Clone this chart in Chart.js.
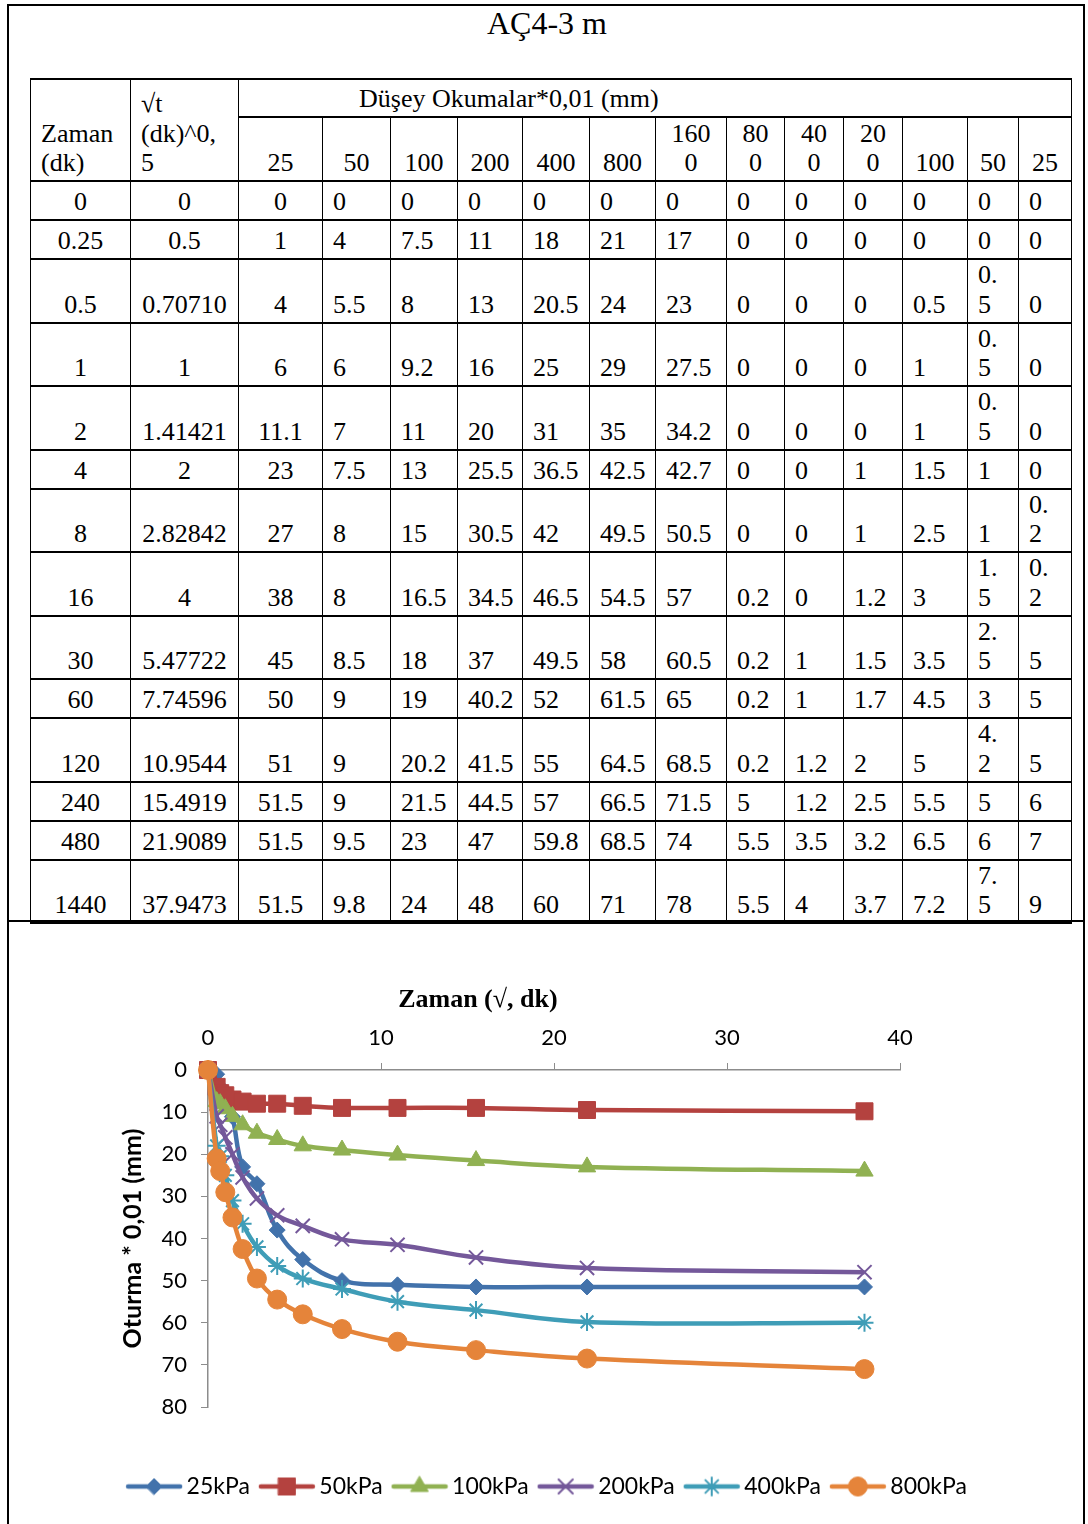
<!DOCTYPE html>
<html>
<head>
<meta charset="utf-8">
<script src="https://cdn.jsdelivr.net/npm/chart.js@4.4.0/dist/chart.umd.min.js"></script>
<style>
  html, body { margin: 0; padding: 0; background: #fff; }
  body { width: 1088px; height: 1524px; position: relative; overflow: hidden;
         font-family: "Liberation Serif", "Times New Roman", serif; color: #000; }
  #cerceve { position: absolute; left: 7px; top: 4px; width: 1078px; height: 1700px;
             border: 2px solid #000; box-sizing: border-box; }
  #ayrac { position: absolute; left: 7px; top: 920px; width: 1078px; height: 2px; background: #000; }
  #baslik { position: absolute; left: 3px; top: 4px; width: 1088px; text-align: center;
            font-size: 32px; line-height: 38px; }
  #tablo { position: absolute; left: 30px; top: 78px; width: 1041px; border-collapse: collapse;
           table-layout: fixed; font-size: 26px; }
  #tablo td { border-left: 1px solid #000; border-right: 1px solid #000;
              border-top: 2px solid #000; border-bottom: 2px solid #000;
              padding: 0 0 2px 10px; line-height: 29.75px; vertical-align: bottom;
              text-align: left; word-break: break-all; }
  #tablo td.c { text-align: center; padding-left: 0; }
  #tablo td.dar { padding-right: 13px; }
  #tablo td.dus { padding-left: 120px; }
  #tablo tr { height: 39px; }
  #tablo tr.h1 { height: 38px; }
  #tablo tr.h2 { height: 64px; }
  #grafik { position: absolute; left: 100px; top: 960px; width: 900px; height: 560px; }
</style>
</head>
<body>
<div id="cerceve"></div>
<div id="ayrac"></div>
<div id="baslik">AÇ4-3 m</div>

<table id="tablo">
  <colgroup>
    <col style="width:100px"><col style="width:108px"><col style="width:84px"><col style="width:68px">
    <col style="width:67px"><col style="width:65px"><col style="width:67px"><col style="width:66px">
    <col style="width:71px"><col style="width:58px"><col style="width:59px"><col style="width:59px">
    <col style="width:65px"><col style="width:51px"><col style="width:53px">
  </colgroup>
  <tbody id="satirlar">
    <tr class="h1">
      <td rowspan="2">Zaman<br>(dk)</td>
      <td rowspan="2">√t<br>(dk)^0,<br>5</td>
      <td colspan="13" class="dus">Düşey Okumalar*0,01 (mm)</td>
    </tr>
    <tr class="h2">
      <td class="c">25</td><td class="c">50</td><td class="c">100</td><td class="c">200</td>
      <td class="c">400</td><td class="c">800</td><td class="c">160<br>0</td><td class="c">80<br>0</td>
      <td class="c">40<br>0</td><td class="c">20<br>0</td><td class="c">100</td><td class="c">50</td>
      <td class="c">25</td>
    </tr>
  </tbody>
</table>

<div id="grafik"><canvas id="oturmaGrafik"></canvas></div>

<script>
// zaman (dk) ve karekök zaman
const zamanDk = [0, 0.25, 0.5, 1, 2, 4, 8, 16, 30, 60, 120, 240, 480, 1440];
const kokT = [0, 0.5, 0.707107, 1, 1.414214, 2, 2.828427, 4, 5.477226, 7.745967,
              10.954451, 15.491933, 21.908902, 37.947332];

// yükleme okumaları (kPa)
const okuma25   = [0, 1, 4, 6, 11.1, 23, 27, 38, 45, 50, 51, 51.5, 51.5, 51.5];
const okuma50   = [0, 4, 5.5, 6, 7, 7.5, 8, 8, 8.5, 9, 9, 9, 9.5, 9.8];
const okuma100  = [0, 7.5, 8, 9.2, 11, 13, 15, 16.5, 18, 19, 20.2, 21.5, 23, 24];
const okuma200  = [0, 11, 13, 16, 20, 25.5, 30.5, 34.5, 37, 40.2, 41.5, 44.5, 47, 48];
const okuma400  = [0, 18, 20.5, 25, 31, 36.5, 42, 46.5, 49.5, 52, 55, 57, 59.8, 60];
const okuma800  = [0, 21, 24, 29, 35, 42.5, 49.5, 54.5, 58, 61.5, 64.5, 66.5, 68.5, 71];
const okuma1600 = [0, 17, 23, 27.5, 34.2, 42.7, 50.5, 57, 60.5, 65, 68.5, 71.5, 74, 78];

// boşaltma okumaları
const bosalma800 = [0, 0, 0, 0, 0, 0, 0, 0.2, 0.2, 0.2, 0.2, 5, 5.5, 5.5];
const bosalma400 = [0, 0, 0, 0, 0, 0, 0, 0, 1, 1, 1.2, 1.2, 3.5, 4];
const bosalma200 = [0, 0, 0, 0, 0, 1, 1, 1.2, 1.5, 1.7, 2, 2.5, 3.2, 3.7];
const bosalma100 = [0, 0, 0.5, 1, 1, 1.5, 2.5, 3, 3.5, 4.5, 5, 5.5, 6.5, 7.2];
const bosalma50  = [0, 0, 0.5, 0.5, 0.5, 1, 1, 1.5, 2.5, 3, 4.2, 5, 6, 7.5];
const bosalma25  = [0, 0, 0, 0, 0, 0, 0.2, 0.2, 5, 5, 5, 6, 7, 9];

const seriAdlari = ['25kPa', '50kPa', '100kPa', '200kPa', '400kPa', '800kPa'];
const xTikler = [0, 10, 20, 30, 40];
const yTikler = [0, 10, 20, 30, 40, 50, 60, 70, 80];

// ---- tablo ----
const kolonlar = [okuma25, okuma50, okuma100, okuma200, okuma400, okuma800, okuma1600,
                  bosalma800, bosalma400, bosalma200, bosalma100, bosalma50, bosalma25];
const govde = document.getElementById('satirlar');
zamanDk.forEach((z, r) => {
  const tr = document.createElement('tr');
  let html = `<td class="c">${z}</td><td class="c">${String(kokT[r]).slice(0, 7)}</td>`;
  kolonlar.forEach((kol, k) => {
    const cls = k === 0 ? 'c' : (k >= 11 ? 'dar' : '');
    html += `<td class="${cls}">${kol[r]}</td>`;
  });
  tr.innerHTML = html;
  govde.appendChild(tr);
});

// ---- grafik ----
const renkler = ['#4272AB', '#B4423F', '#90B152', '#74589A', '#3F9DB7', '#E5843A'];
const isaretler = ['rectRot', 'rect', 'triangle', 'crossRot', 'star', 'circle'];
const isaretBoyu = [8, 12, 10, 10, 9, 9.5];
const cizgiIsaret = s => s === 'crossRot' || s === 'star';

function legendIkon(i) {
  const c = document.createElement('canvas');
  c.width = 58; c.height = 26;
  const g = c.getContext('2d');
  g.strokeStyle = renkler[i];
  g.lineWidth = 4.5;
  g.lineCap = 'round';
  g.beginPath(); g.moveTo(3, 13); g.lineTo(55, 13); g.stroke();
  g.fillStyle = renkler[i];
  g.lineWidth = cizgiIsaret(isaretler[i]) ? 2 : 1;
  Chart.helpers.drawPoint(g, {
    pointStyle: isaretler[i], radius: isaretBoyu[i], rotation: 0,
    borderWidth: g.lineWidth,
  }, 29, 13);
  return c;
}

const seriler = [okuma25, okuma50, okuma100, okuma200, okuma400, okuma800];
const datasets = seriler.map((vals, i) => ({
  label: seriAdlari[i],
  data: vals.map((v, j) => ({ x: kokT[j], y: v })),
  borderColor: renkler[i],
  backgroundColor: renkler[i],
  borderWidth: 4.5,
  tension: 0.4,
  pointStyle: isaretler[i],
  pointRadius: isaretBoyu[i],
  pointHoverRadius: isaretBoyu[i],
  pointBorderWidth: cizgiIsaret(isaretler[i]) ? 2 : 1,
  clip: false,
  order: seriler.length - i,
}));

const xBaslik = {
  id: 'xBaslik',
  afterDraw(chart) {
    const { ctx, chartArea } = chart;
    ctx.save();
    ctx.font = 'bold 26px "Liberation Serif"';
    ctx.fillStyle = '#000';
    ctx.textAlign = 'center';
    ctx.textBaseline = 'middle';
    ctx.fillText('Zaman (√, dk)', chartArea.left + chartArea.width * 0.39, chartArea.top - 70);
    ctx.restore();
  },
};

const eksenRenk = '#8C8C8C';
const tikFont = { family: 'Lato', size: 22 };

new Chart(document.getElementById('oturmaGrafik').getContext('2d'), {
  type: 'line',
  data: { datasets },
  options: {
    responsive: true,
    maintainAspectRatio: false,
    animation: false,
    layout: { padding: { top: 0, right: 0, bottom: 12, left: 0 } },
    plugins: {
      tooltip: { enabled: false },
      legend: {
        position: 'bottom',
        title: { display: true, text: ' ', font: { size: 10 }, padding: { top: 0, bottom: 40 } },
        labels: {
          usePointStyle: true,
          pointStyleWidth: 42,
          padding: 16,
          color: '#000',
          font: { family: 'Lato', size: 23 },
          generateLabels: chart => chart.data.datasets.map((ds, i) => ({
            text: ds.label,
            pointStyle: legendIkon(i),
            fillStyle: ds.backgroundColor,
            strokeStyle: ds.borderColor,
            lineWidth: 0,
            hidden: false,
            datasetIndex: i,
            fontColor: '#000',
          })),
        },
      },
    },
    scales: {
      x: {
        type: 'linear',
        position: 'top',
        min: 0,
        max: 40,
        afterBuildTicks: s => { s.ticks = xTikler.map(v => ({ value: v })); },
        ticks: { font: tikFont, color: '#000', padding: 12 },
        grid: { drawOnChartArea: false, drawTicks: true, tickLength: 7, color: eksenRenk },
        border: { color: eksenRenk, width: 1.5 },
        afterFit: s => { s.height = 110; },
      },
      y: {
        reverse: true,
        min: 0,
        max: 80,
        afterBuildTicks: s => { s.ticks = yTikler.map(v => ({ value: v })); },
        ticks: { font: tikFont, color: '#000', padding: 14 },
        grid: { drawOnChartArea: false, drawTicks: true, tickLength: 7, color: eksenRenk },
        border: { color: eksenRenk, width: 1.5 },
        title: {
          display: true,
          text: 'Oturma * 0,01 (mm)',
          color: '#000',
          font: { family: 'Lato', size: 25, weight: 'bold' },
          padding: { top: 18, bottom: 0 },
        },
        afterFit: s => { s.width = 108; },
      },
      // sağ boşluk için görünmez eksen
      sag: {
        type: 'linear',
        position: 'right',
        ticks: { display: false },
        grid: { display: false },
        border: { display: false },
        afterFit: s => { s.width = 100; },
      },
    },
  },
  plugins: [xBaslik],
});
</script>
</body>
</html>
